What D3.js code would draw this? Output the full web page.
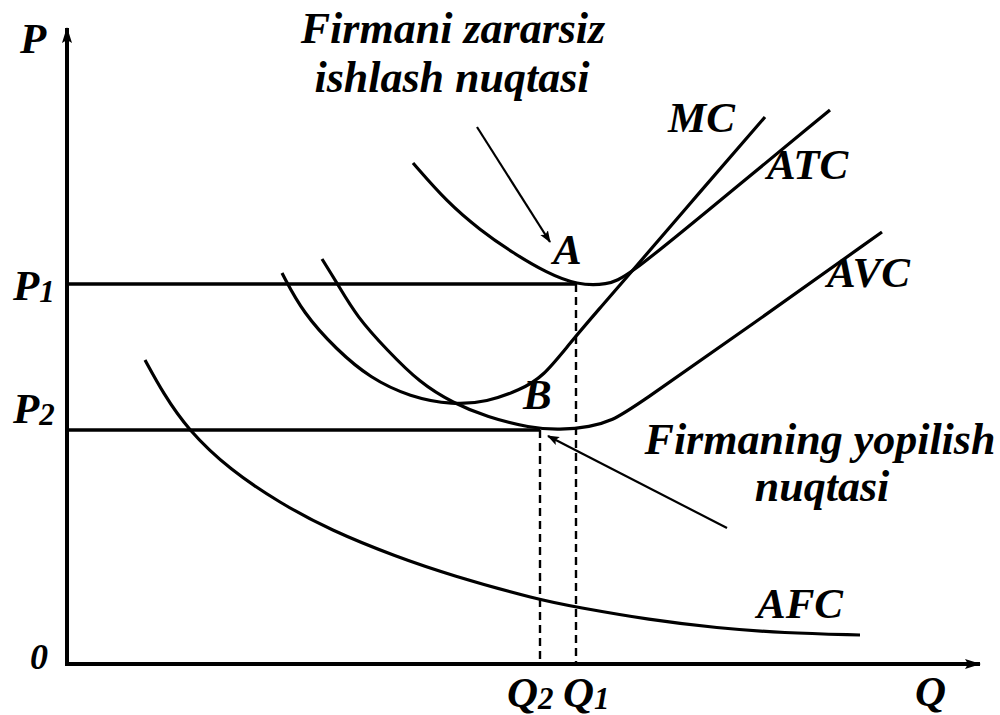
<!DOCTYPE html>
<html>
<head>
<meta charset="utf-8">
<script src="https://cdn.jsdelivr.net/npm/d3@7"></script>
<style>
  html, body { margin: 0; padding: 0; background: #fff; }
  svg { display: block; }
  text { font-family: "Liberation Serif", "Times New Roman", serif; font-weight: bold; font-style: italic; fill: #000; }
</style>
</head>
<body>
<svg id="chart" width="1000" height="715"></svg>
<script>
// ---- Data (arbitrary quantity / price units) ----
const atcQ = [346, 380, 413, 446, 480, 510, 540, 560, 633, 763];
const atcP = [501, 462, 434, 411, 391, 379, 379, 387, 447, 554];

const mcQ = [215, 236, 270, 303, 343, 386, 420, 453, 476, 503, 533, 560, 633, 698];
const mcP = [391, 351, 314, 286, 267, 259, 262, 274, 287, 321, 356, 387, 472, 547];

const avcQ = [255, 270, 290, 320, 353, 386, 420, 463, 493, 523, 546, 566, 683, 815];
const avcP = [405, 381, 347, 314, 281, 261, 247, 236, 234, 237, 244, 256, 338, 432];

const afcQ = [78, 96, 121, 163, 213, 263, 330, 383, 472, 509, 583, 650, 716, 793];
const afcP = [304, 271, 234, 194, 161, 134, 107, 89, 64, 57, 44, 36, 31, 29];

const priceLevels = [380, 234];          // P1, P2
const quantityLevels = [509, 473];       // Q1, Q2
const priceLabels = ["1", "2"];
const quantityLabels = ["1", "2"];

const curveNames = ["MC", "ATC", "AVC", "AFC"];
const pointNames = ["A", "B"];
const noteTop = ["Firmani zararsiz", "ishlash nuqtasi"];
const noteBottom = ["Firmaning yopilish", "nuqtasi"];
// annotation arrows: [tailQ, tailP, tipQ, tipP]
const arrowTop = [410, 537, 483, 422];
const arrowBottom = [660, 136, 481, 228];

// ---- Scales ----
const x = d3.scaleLinear().domain([0, 913]).range([67, 980]);
const y = d3.scaleLinear().domain([0, 636]).range([664, 28]);

const svg = d3.select("#chart");

const defs = svg.append("defs");
defs.append("marker").attr("id", "axisArrow")
  .attr("viewBox", "0 0 16 12").attr("refX", 15).attr("refY", 6)
  .attr("markerWidth", 16).attr("markerHeight", 12).attr("markerUnits", "userSpaceOnUse")
  .attr("orient", "auto")
  .append("path").attr("d", "M0,1 L16,6 L0,11 L3,6 Z").attr("fill", "#000");
defs.append("marker").attr("id", "noteArrow")
  .attr("viewBox", "0 0 12 10").attr("refX", 11).attr("refY", 5)
  .attr("markerWidth", 12).attr("markerHeight", 10).attr("markerUnits", "userSpaceOnUse")
  .attr("orient", "auto")
  .append("path").attr("d", "M0,0.5 L12,5 L0,9.5 L2.5,5 Z").attr("fill", "#000");

// ---- Axes ----
const [q0, q1] = x.domain();
const [p0, p1] = y.domain();
svg.append("line")
  .attr("x1", x(q0)).attr("y1", y(p0) + 2).attr("x2", x(q0)).attr("y2", y(p1))
  .attr("stroke", "#000").attr("stroke-width", 4).attr("marker-end", "url(#axisArrow)");
svg.append("line")
  .attr("x1", x(q0) - 2).attr("y1", y(p0)).attr("x2", x(q1)).attr("y2", y(p0))
  .attr("stroke", "#000").attr("stroke-width", 4).attr("marker-end", "url(#axisArrow)");

// ---- Price / quantity guide lines ----
priceLevels.forEach((p, i) => {
  svg.append("line")
    .attr("x1", x(q0)).attr("x2", x(quantityLevels[i]))
    .attr("y1", y(p)).attr("y2", y(p))
    .attr("stroke", "#000").attr("stroke-width", 3.6);
  svg.append("line")
    .attr("x1", x(quantityLevels[i])).attr("x2", x(quantityLevels[i]))
    .attr("y1", y(p)).attr("y2", y(p0))
    .attr("stroke", "#000").attr("stroke-width", 2.4).attr("stroke-dasharray", "8,5");
});

// ---- Curves ----
const line = d3.line().x(d => x(d[0])).y(d => y(d[1])).curve(d3.curveBasis);
const series = [[mcQ, mcP], [atcQ, atcP], [avcQ, avcP], [afcQ, afcP]];
series.forEach(([qs, ps]) => {
  svg.append("path")
    .datum(qs.map((q, i) => [q, ps[i]]))
    .attr("d", line)
    .attr("fill", "none").attr("stroke", "#000").attr("stroke-width", 3.2)
    .attr("stroke-linecap", "butt");
});

// ---- Annotation arrows ----
[arrowTop, arrowBottom].forEach(a => {
  svg.append("line")
    .attr("x1", x(a[0])).attr("y1", y(a[1])).attr("x2", x(a[2])).attr("y2", y(a[3]))
    .attr("stroke", "#000").attr("stroke-width", 2.2).attr("marker-end", "url(#noteArrow)");
});

// ---- Labels ----
const big = 43;
function label(txt, px, py, size, anchor) {
  return svg.append("text").attr("x", px).attr("y", py)
    .attr("font-size", size).attr("text-anchor", anchor || "start").text(txt);
}
label("P", 20, 53, big);
const pLabY = [300, 423];
priceLabels.forEach((s, i) => {
  const t = label("P", 13, pLabY[i], big);
  t.append("tspan").attr("font-size", 31).attr("dy", 2).text(s);
});
label("0", 30, 669, 36);
const qLabX = [563, 507];
quantityLabels.forEach((s, i) => {
  const t = label("Q", qLabX[i], 707, big);
  t.append("tspan").attr("font-size", 31).attr("dy", 2).text(s);
});
label("Q", 915, 706, big);

const curveLabPos = [[668, 132], [767, 179], [827, 287], [757, 618]];
curveNames.forEach((n, i) => label(n, curveLabPos[i][0], curveLabPos[i][1], big));
const pointLabPos = [[553, 264], [523, 409]];
pointNames.forEach((n, i) => label(n, pointLabPos[i][0], pointLabPos[i][1], big));

const noteSize = 44;
label(noteTop[0], 453, 43, noteSize, "middle");
label(noteTop[1], 452, 92, noteSize, "middle");
label(noteBottom[0], 820, 454, noteSize, "middle");
label(noteBottom[1], 822, 501, noteSize, "middle");
</script>
</body>
</html>
